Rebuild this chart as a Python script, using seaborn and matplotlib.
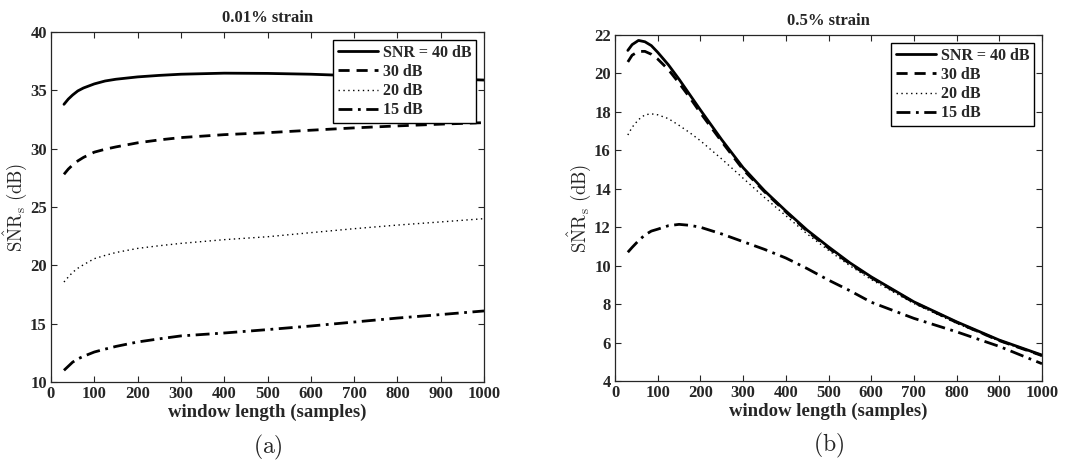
import numpy as np
import pandas as pd
import matplotlib
matplotlib.use("Agg")
import matplotlib.pyplot as plt
import seaborn as sns

# ---- data ----
series_labels = ["SNR = 40 dB", "30 dB", "20 dB", "15 dB"]

x_a = [30, 40, 50, 62, 75, 100, 125, 150, 200, 250, 300, 400, 500, 600, 700, 800, 900, 1000]
a_40 = [33.8, 34.25, 34.6, 34.95, 35.2, 35.55, 35.8, 35.95, 36.15, 36.28, 36.38, 36.47, 36.45, 36.38, 36.25, 36.12, 36.0, 35.88]
a_30 = [27.8, 28.25, 28.6, 28.95, 29.25, 29.7, 29.95, 30.15, 30.5, 30.75, 30.95, 31.2, 31.37, 31.58, 31.78, 31.95, 32.1, 32.23]
a_20 = [18.57, 19.0, 19.4, 19.75, 20.05, 20.57, 20.85, 21.1, 21.45, 21.68, 21.88, 22.2, 22.45, 22.8, 23.14, 23.45, 23.72, 24.0]
a_15 = [11.0, 11.35, 11.7, 11.98, 12.2, 12.57, 12.82, 13.05, 13.43, 13.7, 13.95, 14.2, 14.49, 14.8, 15.14, 15.48, 15.78, 16.09]

x_b = [30, 40, 55, 70, 85, 100, 125, 150, 175, 200, 250, 300, 350, 400, 450, 500, 550, 600, 700, 800, 900, 1000]
b_40 = [21.2, 21.5, 21.72, 21.65, 21.45, 21.1, 20.45, 19.7, 18.9, 18.1, 16.55, 15.1, 13.9, 12.85, 11.85, 10.98, 10.15, 9.42, 8.12, 7.08, 6.13, 5.35]
b_30 = [20.6, 20.95, 21.15, 21.15, 21.0, 20.75, 20.2, 19.5, 18.75, 17.95, 16.45, 15.0, 13.85, 12.8, 11.8, 10.92, 10.1, 9.38, 8.09, 7.05, 6.1, 5.32]
b_20 = [16.8, 17.2, 17.6, 17.85, 17.9, 17.85, 17.65, 17.3, 16.92, 16.5, 15.55, 14.55, 13.55, 12.6, 11.65, 10.8, 10.0, 9.28, 8.03, 7.0, 6.08, 5.3]
b_15 = [10.7, 10.95, 11.3, 11.6, 11.8, 11.9, 12.08, 12.15, 12.1, 12.0, 11.65, 11.25, 10.85, 10.4, 9.85, 9.25, 8.7, 8.1, 7.26, 6.56, 5.8, 4.9]

panel_titles = ["0.01% strain", "0.5% strain"]
panel_tags = ["(a)", "(b)"]
xticks = list(range(0, 1001, 100))
yticks_a = list(range(10, 41, 5))
yticks_b = list(range(4, 23, 2))

# ---- style ----
sns.set_style("ticks")
plt.rcParams["font.family"] = ["Liberation Serif", "DejaVu Serif"]
plt.rcParams["mathtext.fontset"] = "cm"

fig = plt.figure(figsize=(10.87, 4.69), dpi=100)
ax_a = fig.add_axes([0.0469, 0.1855, 0.3984, 0.7463])
ax_b = fig.add_axes([0.5658, 0.1876, 0.3928, 0.7377])

styles = [dict(ls="-", lw=2.0), dict(ls=(0, (4, 2.5)), lw=2.0),
          dict(ls=(0, (1, 2.5)), lw=1.0), dict(ls=(0, (5, 2, 1, 2)), lw=2.0)]

panels = [
    (ax_a, x_a, [a_40, a_30, a_20, a_15], yticks_a, (10, 40)),
    (ax_b, x_b, [b_40, b_30, b_20, b_15], yticks_b, (4, 22)),
]

for i, (ax, xs, ys_list, yt, ylim) in enumerate(panels):
    frames = []
    for lab, ys in zip(series_labels, ys_list):
        frames.append(pd.DataFrame({"x": xs, "y": ys, "series": lab}))
    df = pd.concat(frames, ignore_index=True)
    for lab, st in zip(series_labels, styles):
        sub = df[df["series"] == lab]
        sns.lineplot(data=sub, x="x", y="y", ax=ax, color="black",
                     linestyle=st["ls"], linewidth=st["lw"], label=lab)
    ax.set_xlim(0, 1000)
    ax.set_ylim(*ylim)
    ax.set_xticks(xticks)
    ax.set_yticks(yt)
    for lbl in ax.get_xticklabels() + ax.get_yticklabels():
        lbl.set_fontweight("bold")
        lbl.set_fontsize(12)
    ax.tick_params(direction="in", top=True, right=True, length=4, width=0.8, pad=3)
    for s in ax.spines.values():
        s.set_visible(True)
        s.set_linewidth(0.9)
    ax.set_xlabel("window length (samples)", fontsize=13.5, fontweight="bold", labelpad=1)
    ax.set_ylabel(r"$\mathrm{S\hat{N}R_s\ (dB)}$", fontsize=13.5, labelpad=1)
    ax.set_title(panel_titles[i], fontsize=12, fontweight="bold", pad=7)
    leg = ax.legend(loc="upper right", frameon=True, fancybox=False, edgecolor="black",
                    framealpha=1.0,
                    prop=dict(weight="bold", size=11.5), handlelength=2.5, handletextpad=0.3,
                    labelspacing=0.2, borderpad=0.3, borderaxespad=0.5)
    leg.get_frame().set_linewidth(1.0)
    ax.text(0.5, -0.186, r"$\mathrm{" + panel_tags[i] + "}$", transform=ax.transAxes,
            ha="center", va="center", fontsize=17)

fig.savefig("out.png", dpi=100)
